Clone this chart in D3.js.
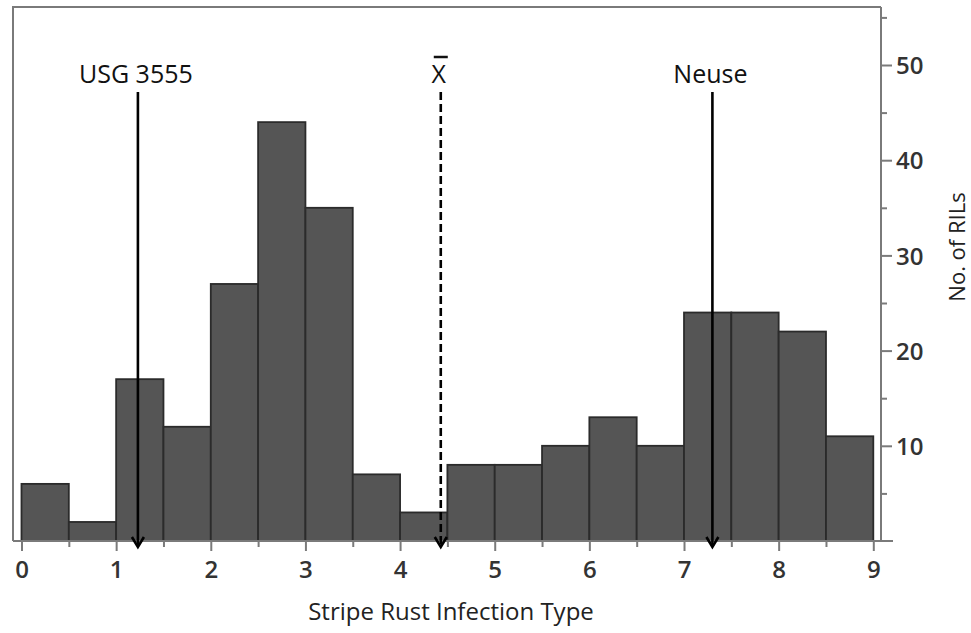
<!DOCTYPE html>
<html>
<head>
<meta charset="utf-8">
<script src="https://cdn.jsdelivr.net/npm/d3@7"></script>
<style>
  body { margin: 0; background: #fff; }
  text { font-family: "Open Sans", sans-serif; }
</style>
</head>
<body>
<div id="chart"></div>
<script>
// histogram bins (lower edge, width 0.5) and counts
var binStarts = [0, 0.5, 1, 1.5, 2, 2.5, 3, 3.5, 4, 4.5, 5, 5.5, 6, 6.5, 7, 7.5, 8, 8.5];
var counts = [6, 2, 17, 12, 27, 44, 35, 7, 3, 8, 8, 10, 13, 10, 24, 24, 22, 11];
var binWidth = 0.5;

// marker arrows
var markerNames = ["USG 3555", "X", "Neuse"];
var markerValues = [1.23, 4.43, 7.3];
var markerDashed = [false, true, false];

var xTicks = [0, 1, 2, 3, 4, 5, 6, 7, 8, 9];
var yTicks = [10, 20, 30, 40, 50];

var svgWidth = 971;
var svgHeight = 633;

var margin = { top: 7, right: 90, bottom: 92, left: 13 };

var svg = d3.select("#chart")
  .append("svg")
  .attr("width", svgWidth)
  .attr("height", svgHeight);

var plotRight = svgWidth - margin.right; // 881
var plotBottom = svgHeight - margin.bottom; // 541

var x = d3.scaleLinear().domain([0, 9]).range([21.5, 873.3]);
var y = d3.scaleLinear().domain([0, 56]).range([plotBottom, plotBottom - 56 * 9.52]);

// frame (left + top)
svg.append("path")
  .attr("d", `M${margin.left},${plotBottom} V${margin.top} H${plotRight}`)
  .attr("fill", "none")
  .attr("stroke", "#7a7a7a")
  .attr("stroke-width", 2);

// bars
svg.selectAll("rect.bar")
  .data(counts)
  .enter()
  .append("rect")
  .attr("class", "bar")
  .attr("x", (d, i) => x(binStarts[i]))
  .attr("width", (d, i) => x(binStarts[i] + binWidth) - x(binStarts[i]))
  .attr("y", (d) => y(d))
  .attr("height", (d) => y(0) - y(d))
  .attr("fill", "#555555")
  .attr("stroke", "#2b2b2b")
  .attr("stroke-width", 1.8);

// x axis: integer ticks with labels, half ticks shorter
var bottomAxis = d3.axisBottom(x).tickValues(xTicks).tickSize(10).tickFormat(d3.format("d"));
var xAxis = svg.append("g")
  .attr("transform", `translate(0, ${plotBottom})`)
  .call(bottomAxis);

var minorX = d3.axisBottom(x).tickValues(binStarts.filter((d) => d % 1 !== 0)).tickSize(6).tickFormat("");
svg.append("g")
  .attr("transform", `translate(0, ${plotBottom})`)
  .call(minorX)
  .select(".domain").remove();

xAxis.select(".domain")
  .attr("d", `M${margin.left},0 H${plotRight + 12}`);

// y axis on the right
var rightAxis = d3.axisRight(y).tickValues(yTicks).tickSize(11).tickPadding(4);
var yAxis = svg.append("g")
  .attr("transform", `translate(${plotRight}, 0)`)
  .call(rightAxis);

var minorY = d3.axisRight(y).tickValues([5, 15, 25, 35, 45, 55]).tickSize(6).tickFormat("");
svg.append("g")
  .attr("transform", `translate(${plotRight}, 0)`)
  .call(minorY)
  .select(".domain").remove();

yAxis.select(".domain")
  .attr("d", `M0,${margin.top} V${plotBottom}`);

svg.selectAll(".domain, .tick line")
  .attr("stroke", "#7a7a7a")
  .attr("stroke-width", 2);

xAxis.selectAll("text")
  .attr("y", 37)
  .attr("dy", 0)
  .attr("font-size", 24)
  .attr("font-weight", 600)
  .attr("fill", "#333");

yAxis.selectAll("text")
  .attr("dy", "0.36em")
  .attr("font-size", 24)
  .attr("font-weight", 600)
  .attr("fill", "#333");

svg.selectAll(".tick text").style("font-family", "'Open Sans', sans-serif");

// arrows
var arrowTop = 92;
var arrowTip = plotBottom + 6;

var markers = svg.selectAll("g.marker")
  .data(markerValues)
  .enter()
  .append("g")
  .attr("class", "marker");

markers.append("line")
  .attr("x1", (d) => x(d))
  .attr("x2", (d) => x(d))
  .attr("y1", arrowTop)
  .attr("y2", arrowTip - 1)
  .attr("stroke", "#000")
  .attr("stroke-width", 2.6)
  .attr("stroke-dasharray", (d, i) => (markerDashed[i] ? "8,4" : null));

markers.append("path")
  .attr("d", (d) => `M${x(d) - 6},${arrowTip - 10} L${x(d)},${arrowTip} L${x(d) + 6},${arrowTip - 10}`)
  .attr("fill", "none")
  .attr("stroke", "#000")
  .attr("stroke-width", 2.6);

markers.append("text")
  .attr("x", (d) => x(d) - 2)
  .attr("y", 83)
  .attr("text-anchor", "middle")
  .attr("font-size", 25)
  .attr("fill", "#111")
  .text((d, i) => markerNames[i]);

// bar over the mean symbol
svg.append("line")
  .attr("x1", x(markerValues[1]) - 7)
  .attr("x2", x(markerValues[1]) + 7)
  .attr("y1", 57)
  .attr("y2", 57)
  .attr("stroke", "#111")
  .attr("stroke-width", 2.5);

// axis titles
svg.append("text")
  .attr("x", 451)
  .attr("y", 620)
  .attr("text-anchor", "middle")
  .attr("font-size", 24)
  .attr("fill", "#222")
  .text("Stripe Rust Infection Type");

svg.append("text")
  .attr("transform", "translate(965, 247) rotate(-90)")
  .attr("text-anchor", "middle")
  .attr("font-size", 22)
  .attr("fill", "#222")
  .text("No. of RILs");
</script>
</body>
</html>
